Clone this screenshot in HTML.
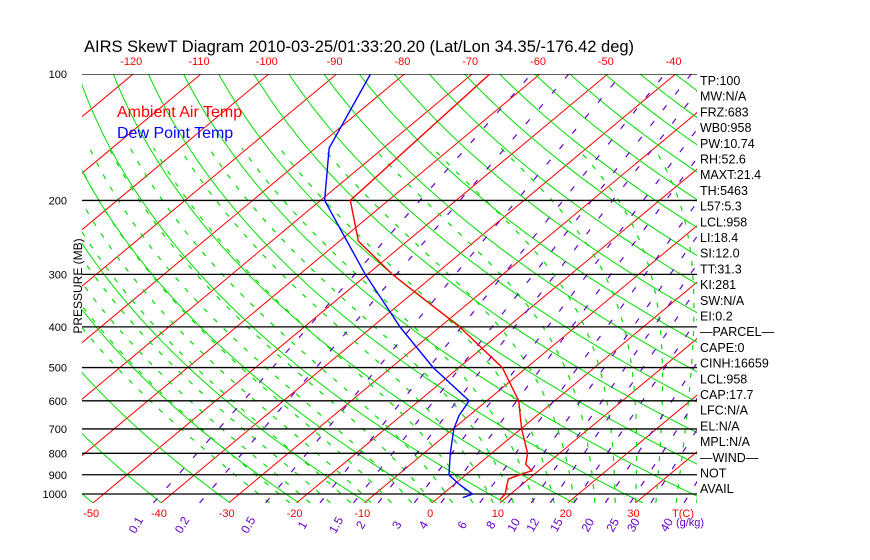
<!DOCTYPE html>
<html><head><meta charset="utf-8">
<style>
html,body{margin:0;padding:0;background:#fff;}
svg{display:block;font-family:"Liberation Sans",sans-serif;}
</style></head>
<body>
<svg id="chart" width="870" height="560" viewBox="0 0 870 560" xmlns="http://www.w3.org/2000/svg">
<defs><clipPath id="plotclip"><rect x="82" y="74" width="615" height="429"/></clipPath></defs>
<text x="84" y="52" font-size="16.5" fill="#000">AIRS SkewT Diagram 2010-03-25/01:33:20.20 (Lat/Lon 34.35/-176.42 deg)</text>
<g id="plot" clip-path="url(#plotclip)"></g>
<g id="axes"></g>
<text x="117" y="117" font-size="16" fill="#f00">Ambient Air Temp</text>
<text x="117" y="138" font-size="16" fill="#00f">Dew Point Temp</text>
<text x="0" y="0" font-size="12" fill="#000" text-anchor="middle" transform="translate(82,286) rotate(-90)">PRESSURE (MB)</text>
<g id="stats"></g>
</svg>
<script>
const pressureLevels=[100,200,300,400,500,600,700,800,900,1000];
const bottomTempTicks=[-50,-40,-30,-20,-10,0,10,20,30];
const topTempTicks=[-120,-110,-100,-90,-80,-70,-60,-50,-40];
const mixRatios=[0.1,0.2,0.5,1,1.5,2,3,4,6,8,10,12,15,20,25,30,40];
const tempP=[100,200,250,300,400,500,600,700,800,850,880,920,950,1000,1030];
const tempT=[-67.4,-65.6,-57.2,-46.3,-27.1,-13.6,-5.3,0.1,5.3,7.0,9.0,7.0,7.8,9.2,9.4];
const dewP=[100,150,200,300,400,500,600,650,700,800,900,950,1000,1020];
const dewT=[-85,-78,-69.4,-50.3,-35.9,-23.8,-12.6,-11.5,-9.9,-6.1,-2.5,0.8,4.4,3.6];
const statLabels=["TP:100","MW:N/A","FRZ:683","WB0:958","PW:10.74","RH:52.6","MAXT:21.4","TH:5463","L57:5.3","LCL:958","LI:18.4","SI:12.0","TT:31.3","KI:281","SW:N/A","EI:0.2","\u2014PARCEL\u2014","CAPE:0","CINH:16659","LCL:958","CAP:17.7","LFC:N/A","EL:N/A","MPL:N/A","\u2014WIND\u2014"," NOT"," AVAIL"];

const NS="http://www.w3.org/2000/svg";
const Y0=74,YB=503,XL=82,XR=697,PX=6.78,SK=1.2,X0=432;
function yP(p){return Y0+182.4*Math.log(p/100);}
function xT(T,p){return X0+PX*T+SK*(YB-yP(p));}
function mk(tag,attrs,parent){const e=document.createElementNS(NS,tag);for(const k in attrs)e.setAttribute(k,attrs[k]);parent.appendChild(e);return e;}
const plot=document.getElementById('plot'),axes=document.getElementById('axes'),stats=document.getElementById('stats');
const PB=1050;
function pts(arr){return arr.map(a=>a[0].toFixed(1)+','+a[1].toFixed(1)).join(' ');}
const plist=[];for(let p=100;p<=PB;p+=5)plist.push(p);

for(let T=-160;T<=50;T+=10){
  const l=mk('line',{x1:xT(T,PB),y1:yP(PB),x2:xT(T,100),y2:yP(100),stroke:'#f00','stroke-width':1},plot);
  
  
}
for(let th=190;th<=480;th+=10){
  const a=plist.map(p=>[xT(th*Math.pow(p/1000,0.2857)-273.15,p),yP(p)]);
  const l=mk('polyline',{points:pts(a),fill:'none',stroke:'#0d0','stroke-width':1},plot);
  
  
}
function es(Tc){return 6.112*Math.exp(17.67*Tc/(Tc+243.5));}
for(let T0=-24;T0<=46;T0+=3){
  let T=T0+273.15,p=PB;const a=[[xT(T0,p),yP(p)]];
  while(p>150){const e=es(T-273.15),rs=0.622*e/(p-e);
    const d=(287*T+2.5e6*rs)/(p*(1004+2.5e6*2.5e6*rs*0.622/(287*T*T)));
    T-=d*5;p-=5;a.push([xT(T-273.15,p),yP(p)]);}
  const l=mk('polyline',{points:pts(a),fill:'none',stroke:'#0d0','stroke-width':1.2,'stroke-dasharray':'5,9'},plot);
  
  
}
function tdW(w,p){const e=w*p/(622+w);const L=Math.log(e/6.112);return 243.5*L/(17.67-L);}
mixRatios.forEach(w=>{
  const a=[[xT(tdW(w,PB),PB),yP(PB)],[xT(tdW(w,100),100),yP(100)]];
  const l=mk('polyline',{points:pts(a),fill:'none',stroke:'#60c','stroke-width':1.2,'stroke-dasharray':'6,14'},plot);
  
  
  const x=xT(tdW(w,PB),PB)-14;
  const t=mk('text',{x:0,y:0,'font-size':12,fill:'#60c','text-anchor':'middle',transform:`translate(${x.toFixed(1)},527) rotate(-60)`},axes);
  t.textContent=String(w);
  
  
});
pressureLevels.forEach(p=>{
  const l=mk('line',{x1:XL,y1:yP(p),x2:XR,y2:yP(p),stroke:'#000','stroke-width':1.3},plot);
  
  
  const t=mk('text',{x:67,y:yP(p)+4,'font-size':11,fill:'#000','text-anchor':'end'},axes);
  t.textContent=String(p);
  
  
});
const tl=mk('polyline',{points:pts(tempP.map((p,i)=>[xT(tempT[i],p),yP(p)])),fill:'none',stroke:'#f00','stroke-width':1.4},plot);


const dl=mk('polyline',{points:pts(dewP.map((p,i)=>[xT(dewT[i],p),yP(p)])),fill:'none',stroke:'#00f','stroke-width':1.4},plot);


bottomTempTicks.forEach(T=>{
  const t=mk('text',{x:xT(T,PB)-2,y:517,'font-size':11,fill:'#f00','text-anchor':'middle'},axes);
  t.textContent=String(T);
  
  
});
const tc=mk('text',{x:683,y:517,'font-size':11,fill:'#f00','text-anchor':'middle'},axes);
tc.textContent='T(C)';


const gk=mk('text',{x:690,y:526,'font-size':11,fill:'#60c','text-anchor':'middle'},axes);
gk.textContent='(g/kg)';


topTempTicks.forEach(T=>{
  const t=mk('text',{x:xT(T,100)-2,y:65,'font-size':11,fill:'#f00','text-anchor':'middle'},axes);
  t.textContent=String(T);
  
  
});
statLabels.forEach((s,i)=>{
  const t=mk('text',{x:700,y:85+i*15.7,'font-size':12.5,fill:'#000'},stats);
  t.textContent=s;
  
  
});
</script>
</body></html>
